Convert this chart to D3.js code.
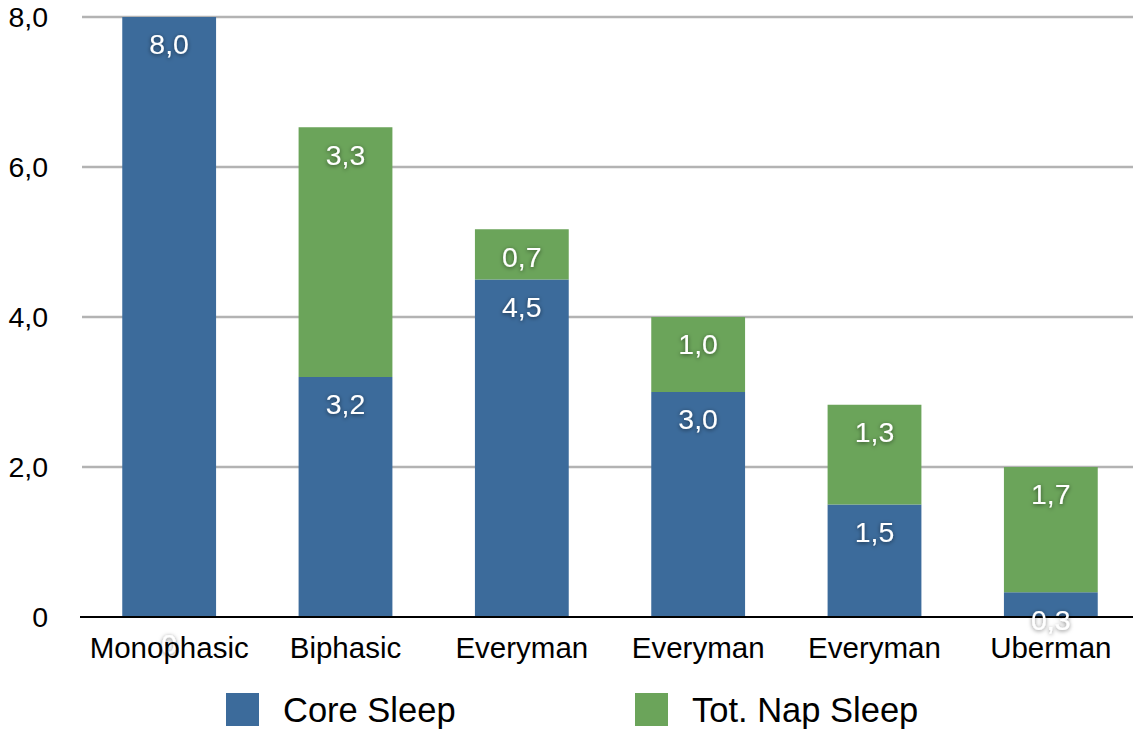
<!DOCTYPE html>
<html>
<head>
<meta charset="utf-8">
<script src="https://cdn.jsdelivr.net/npm/d3@7/dist/d3.min.js"></script>
<style>
  html, body { margin: 0; padding: 0; background: #fff; }
  svg { display: block; font-family: "Liberation Sans", Arial, Helvetica, sans-serif; }
</style>
</head>
<body>
<svg id="chart" width="1133" height="731"></svg>
<script>
// Sleep schedules: hours of core sleep and total nap sleep per day
const categories = ["Monophasic", "Biphasic", "Everyman", "Everyman", "Everyman", "Uberman"];
const coreSleep = [8.0, 3.2, 4.5, 3.0, 1.5, 0.33];
const napSleep = [0, 3.33, 0.67, 1.0, 1.33, 1.67];
const seriesNames = ["Core Sleep", "Tot. Nap Sleep"];
const seriesColors = ["#3c6b9b", "#6ba45a"];
const yTicks = [0, 2, 4, 6, 8];

const W = 1133, H = 731;
const svg = d3.select("#chart");

const x = d3.scaleBand()
  .domain(d3.range(categories.length))
  .range([81, 1139])
  .paddingInner(0.468)
  .paddingOuter(0.234);

const y = d3.scaleLinear().domain([0, 8]).range([617, 17]);

const fmt = v => d3.format(".1f")(v).replace(".", ",");
const tickFmt = v => v === 0 ? "0" : fmt(v);

// soft shadow behind the value labels
const defs = svg.append("defs");
const f = defs.append("filter").attr("id", "shadow")
  .attr("x", "-50%").attr("y", "-50%").attr("width", "200%").attr("height", "200%");
f.append("feDropShadow").attr("dx", 0).attr("dy", 1).attr("stdDeviation", 2.2)
  .attr("flood-color", "#000").attr("flood-opacity", 0.55);

// horizontal grid lines
svg.append("g").selectAll("line")
  .data(yTicks.filter(t => t > 0))
  .join("line")
  .attr("x1", 82).attr("x2", W)
  .attr("y1", d => y(d)).attr("y2", d => y(d))
  .attr("stroke", "#b3b3b3").attr("stroke-width", 2.5);

// y tick labels
svg.append("g").selectAll("text")
  .data(yTicks)
  .join("text")
  .attr("x", 48).attr("y", d => y(d))
  .attr("dy", "0.36em")
  .attr("text-anchor", "end")
  .attr("font-size", 28.5)
  .attr("fill", "#000")
  .text(tickFmt);

// stacked data
const rows = categories.map((c, i) => ({ i, core: coreSleep[i], nap: napSleep[i] }));
const stack = d3.stack().keys(["core", "nap"]);
const stacked = stack(rows);

const layers = svg.append("g").selectAll("g")
  .data(stacked)
  .join("g")
  .attr("fill", (d, k) => seriesColors[k]);

layers.selectAll("rect")
  .data(d => d)
  .join("rect")
  .attr("x", d => x(d.data.i))
  .attr("width", x.bandwidth())
  .attr("y", d => y(d[1]))
  .attr("height", d => y(d[0]) - y(d[1]));

// baseline
svg.append("line")
  .attr("x1", 80).attr("x2", W)
  .attr("y1", y(0)).attr("y2", y(0))
  .attr("stroke", "#000").attr("stroke-width", 2);

// value labels near the top of each segment; an empty segment is labelled at the baseline
const labels = [];
stacked.forEach(layer => layer.forEach(d => {
  const v = d[1] - d[0];
  labels.push({ i: d.data.i, top: v === 0 ? 0 : d[1], v });
}));
svg.append("g").selectAll("text")
  .data(labels)
  .join("text")
  .attr("x", d => x(d.i) + x.bandwidth() / 2)
  .attr("y", d => y(d.top) + 27)
  .attr("dy", "0.36em")
  .attr("text-anchor", "middle")
  .attr("font-size", 28.5)
  .attr("fill", "#fff")
  .attr("filter", "url(#shadow)")
  .text(d => d.v === 0 ? "0" : fmt(d.v));

// category labels
svg.append("g").selectAll("text")
  .data(categories)
  .join("text")
  .attr("x", (d, i) => x(i) + x.bandwidth() / 2)
  .attr("y", 658)
  .attr("text-anchor", "middle")
  .attr("font-size", 29.5)
  .attr("fill", "#000")
  .text(d => d);

// legend
const legendX = [226, 635];
const lg = svg.append("g").selectAll("g")
  .data(seriesNames)
  .join("g")
  .attr("transform", (d, k) => `translate(${legendX[k]},693)`);
lg.append("rect").attr("width", 33).attr("height", 33)
  .attr("fill", (d, k) => seriesColors[k]);
lg.append("text").attr("x", 57).attr("y", 29)
  .attr("font-size", 34.5).attr("fill", "#000")
  .text(d => d);
</script>
</body>
</html>
